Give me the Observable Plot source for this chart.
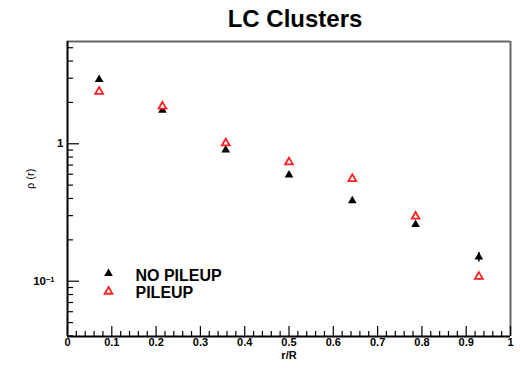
<!DOCTYPE html>
<html><head><meta charset="utf-8">
<script src="https://cdn.jsdelivr.net/npm/d3@7"></script>
<script src="https://cdn.jsdelivr.net/npm/@observablehq/plot@0.6"></script>
<style>body{margin:0;background:#fff;} svg{font-family:"Liberation Sans",Arial,sans-serif;}</style>
</head><body><div id="chart"></div>
<script>
const titleText = "LC Clusters";
const xLabel = "r/R";
const yLabel = "\u03C1 (r)";
const rCenters = [0.0714, 0.2143, 0.3571, 0.5, 0.6429, 0.7857, 0.9286];
const noPileup = [2.94, 1.75, 0.90, 0.592, 0.385, 0.259, 0.150];
const noPileupErr = [0.05, 0.03, 0.015, 0.01, 0.007, 0.006, 0.012];
const pileup = [2.40, 1.87, 1.01, 0.735, 0.556, 0.296, 0.108];
const pileupErr = [0.04, 0.03, 0.015, 0.012, 0.009, 0.006, 0.006];
const seriesNames = ["NO PILEUP", "PILEUP"];
const xMajorTicks = [0, 0.1, 0.2, 0.3, 0.4, 0.5, 0.6, 0.7, 0.8, 0.9, 1];
const xMinorTicks = [0.02,0.04,0.06,0.08,0.12,0.14,0.16,0.18,0.22,0.24,0.26,0.28,0.32,0.34,0.36,0.38,0.42,0.44,0.46,0.48,0.52,0.54,0.56,0.58,0.62,0.64,0.66,0.68,0.72,0.74,0.76,0.78,0.82,0.84,0.86,0.88,0.92,0.94,0.96,0.98];
const yMajorTicks = [0.1, 1];
const yMinorTicks = [0.04,0.05,0.06,0.07,0.08,0.09,0.2,0.3,0.4,0.5,0.6,0.7,0.8,0.9,2,3,4,5];
const xDomain = [0, 1];
const yDomain = [0.0396, 5.55];

const dataNo = rCenters.map((x, i) => ({x, y: noPileup[i], e: noPileupErr[i]}));
const dataPu = rCenters.map((x, i) => ({x, y: pileup[i], e: pileupErr[i]}));

const plot = Plot.plot({
  width: 520,
  height: 368,
  marginTop: 41,
  marginLeft: 67,
  marginRight: 10,
  marginBottom: 32,
  style: {fontFamily: '"Liberation Sans", Arial, sans-serif', background: "#fff"},
  x: {type: "linear", domain: xDomain, axis: null},
  y: {type: "log", domain: yDomain, axis: null},
  marks: [
    // frame
    Plot.ruleY([yDomain[1]], {stroke: "#666", strokeWidth: 2}),
    Plot.ruleX([xDomain[1]], {stroke: "#666", strokeWidth: 2}),
    // ticks
    Plot.axisX({ticks: xMajorTicks, tickSize: -10, tickFormat: () => "", label: null, strokeWidth: 1.2}),
    Plot.axisX({ticks: xMinorTicks, tickSize: -5, tickFormat: () => "", label: null, strokeWidth: 1.2}),
    Plot.axisY({ticks: yMajorTicks, tickSize: -12, tickFormat: () => "", label: null, strokeWidth: 1.2}),
    Plot.axisY({ticks: yMinorTicks, tickSize: -6, tickFormat: () => "", label: null, strokeWidth: 1.2}),
    Plot.axisX({ticks: xMajorTicks, tickSize: 0, tickPadding: 2, tickFormat: d3.format(""), label: null, fontSize: 11, fontWeight: "bold", fill: "#000"}),
    Plot.text([yMajorTicks[1]], {y: d => d, text: d => String(d), frameAnchor: "left", dx: -4, textAnchor: "end", fontSize: 11.5, fontWeight: "bold", className: "ylab1"}),
    Plot.text([yMajorTicks[0]], {y: d => d, text: d => "10|-1", frameAnchor: "left", dx: -13, textAnchor: "end", fontSize: 11.5, fontWeight: "bold", className: "ylabexp"}),
    Plot.ruleX([xDomain[0]], {stroke: "#000", strokeWidth: 2}),
    Plot.ruleY([yDomain[0]], {stroke: "#000", strokeWidth: 2}),
    // axis labels
    Plot.text([xLabel], {frameAnchor: "bottom", lineAnchor: "bottom", dy: 22, fontSize: 11, fontWeight: "bold"}),
    Plot.text([yLabel], {frameAnchor: "left", dx: -37, rotate: -90, fontSize: 11}),
    // title
    Plot.text([titleText], {frameAnchor: "top", lineAnchor: "bottom", dx: 6, dy: -15, fontSize: 24, fontWeight: "bold"}),
    // error bars
    Plot.ruleX(dataNo, {x: "x", y1: d => d.y - d.e, y2: d => d.y + d.e, stroke: "#000", strokeWidth: 1.5}),
    Plot.ruleX(dataPu, {x: "x", y1: d => d.y - d.e, y2: d => d.y + d.e, stroke: "#ff2020", strokeWidth: 1.5}),
    // points
    Plot.dot(dataNo, {x: "x", y: "y", symbol: "triangle", r: 3.2, fill: "#000", stroke: "none"}),
    Plot.dot(dataPu, {x: "x", y: "y", symbol: "triangle", r: 2.9, fill: "#fff", stroke: "#ff2020", strokeWidth: 1.8}),
    // legend
    Plot.dot([seriesNames[0]], {frameAnchor: "bottom-left", dx: 41, dy: -63, symbol: "triangle", r: 3.2, fill: "#000", stroke: "none"}),
    Plot.dot([seriesNames[1]], {frameAnchor: "bottom-left", dx: 41, dy: -45, symbol: "triangle", r: 2.9, fill: "#fff", stroke: "#ff2020", strokeWidth: 1.8}),
    Plot.text([seriesNames[0]], {text: d => d, frameAnchor: "bottom-left", dx: 68, dy: -56, lineAnchor: "bottom", textAnchor: "start", fontSize: 16, fontWeight: "bold"}),
    Plot.text([seriesNames[1]], {text: d => d, frameAnchor: "bottom-left", dx: 68, dy: -39, lineAnchor: "bottom", textAnchor: "start", fontSize: 16, fontWeight: "bold"})
  ]
});

// render 10^-1 with a superscript
d3.select(plot).selectAll("g.ylabexp text").each(function() {
  const parts = this.textContent.split("|");
  const sel = d3.select(this);
  sel.text(parts[0]);
  sel.append("tspan").attr("dy", "-0.45em").attr("font-size", "0.65em").text(parts[1].replace("-", "\u2212"));
});

document.getElementById("chart").appendChild(plot);
</script>
</body></html>
